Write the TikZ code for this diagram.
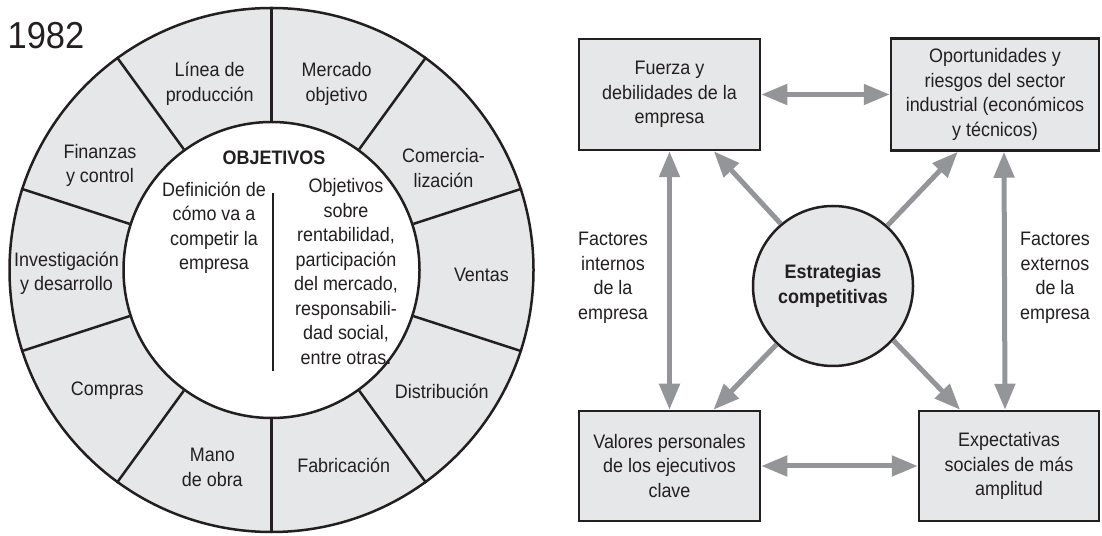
\documentclass[tikz,border=0pt]{standalone}
\usepackage{fontspec}
\setmainfont{Liberation Sans}[FakeStretch=0.92]
\usepackage{tikz}
\usetikzlibrary{positioning,arrows.meta}

\definecolor{ink}{HTML}{231F20}
\definecolor{panelgray}{HTML}{E6E7E8}
\definecolor{arrowgray}{HTML}{939598}

\tikzset{
  txt/.style={align=center, text=ink, font=\fontsize{19.5}{24.5}\selectfont, inner sep=0pt},
  boldtxt/.style={txt, font=\fontsize{19.5}{24.5}\selectfont\bfseries},
  box/.style={txt, draw=ink, line width=2.5pt, fill=panelgray},
  spoke/.style={draw=ink, line width=2.5pt},
  twoway/.style={draw=arrowgray, line width=5pt, {Triangle[length=26pt,width=20pt]}-{Triangle[length=26pt,width=20pt]}},
  oneway/.style={draw=arrowgray, line width=5pt, -{Triangle[length=26pt,width=20pt]}},
}

\begin{document}
\begin{tikzpicture}[x=1pt, y=1pt]
        \useasboundingbox (0,0) rectangle (1102,535);

        % wheel
        \node [circle, draw=ink, line width=2.5pt, fill=panelgray, minimum size=524pt] (wheel) at (271.5,265) {};
        \node [circle, draw=ink, line width=2.5pt, fill=white, minimum size=296pt] (core) at (wheel.center) {};

        \draw[spoke] (core.90) -- (wheel.90);
        \draw[spoke] (core.54) -- (wheel.54);
        \draw[spoke] (core.18) -- (wheel.18);
        \draw[spoke] (core.-18) -- (wheel.-18);
        \draw[spoke] (core.-54) -- (wheel.-54);
        \draw[spoke] (core.-90) -- (wheel.-90);
        \draw[spoke] (core.-126) -- (wheel.-126);
        \draw[spoke] (core.-162) -- (wheel.-162);
        \draw[spoke] (core.162) -- (wheel.162);
        \draw[spoke] (core.126) -- (wheel.126);

        \node [txt, font=\fontsize{37.5}{40}\selectfont] (year) at (46,499.5) {1982};

        \node [txt] (linea) at ([shift={(108.4:196)}]wheel.center) {Línea de\\producción};
        \node [txt] (mercado) at ([shift={(70.7:197)}]wheel.center) {Mercado\\objetivo};
        \node [txt] (comercial) at ([shift={(30.7:200)}]wheel.center) {Comercia-\\lización};
        \node [txt] (ventas) at ([shift={(-1.4:210)}]wheel.center) {Ventas};
        \node [txt] (distrib) at ([shift={(-35.4:209)}]wheel.center) {Distribución};
        \node [txt] (fabric) at ([shift={(-69.7:208)}]wheel.center) {Fabricación};
        \node [txt] (mano) at ([shift={(-106.7:206)}]wheel.center) {Mano\\de obra};
        \node [txt] (compras) at ([shift={(-143.6:204)}]wheel.center) {Compras};
        \node [txt] (investig) at ([shift={(181:205)}]wheel.center) {Investigación\\y desarrollo};
        \node [txt] (finanzas) at ([shift={(148.6:201)}]wheel.center) {Finanzas\\y control};

        \node [boldtxt] (objetivos) at (274,377) {OBJETIVOS};
        \node [txt] (como) at (214,307) {Definición de\\cómo va a\\competir la\\empresa};
        \node [txt] (metas) at (346,263.5) {Objetivos\\sobre\\rentabilidad,\\participación\\del mercado,\\responsabili-\\dad social,\\entre otras.};
        \draw[spoke] (273,342) -- (273,164);

        % competitive strategy
        \node [box, minimum width=181pt, minimum height=111pt] (fuerza) at (669.5,440.5) {Fuerza y\\debilidades de la\\empresa};
        \node [box, right=128.5pt of fuerza, minimum width=208pt, minimum height=112pt] (riesgos) {Oportunidades y\\riesgos del sector\\industrial (económicos\\y técnicos)};
        \node [box, below=258.5pt of fuerza, minimum width=181pt, minimum height=110pt] (valores) {Valores personales\\de los ejecutivos\\clave};
        \node [box, right=156.5pt of valores, minimum width=180pt, minimum height=110pt] (expect) {Expectativas\\sociales de más\\amplitud};

        \node [circle, draw=ink, line width=2.5pt, fill=panelgray, minimum size=160pt, boldtxt] (estrat) at (833,249) {Estrategias\\competitivas};

        \node [txt] (internos) at (613,257) {Factores\\internos\\de la\\empresa};
        \node [txt] (externos) at (1055,257) {Factores\\externos\\de la\\empresa};

        \draw[twoway] (fuerza.east) -- (riesgos.west);
        \draw[twoway] (valores.east) -- (expect.west);
        \draw[twoway] (fuerza.south) -- (valores.north);
        \draw[twoway] ([xshift=9pt]riesgos.south) -- ([xshift=-4pt]expect.north);
        \draw[oneway] (estrat.130) -- (fuerza.-52);
        \draw[oneway] (estrat.48) -- (riesgos.-123);
        \draw[oneway] (estrat.226) -- (valores.52);
        \draw[oneway] (estrat.-42) -- (expect.131);

    \end{tikzpicture}
\end{document}
